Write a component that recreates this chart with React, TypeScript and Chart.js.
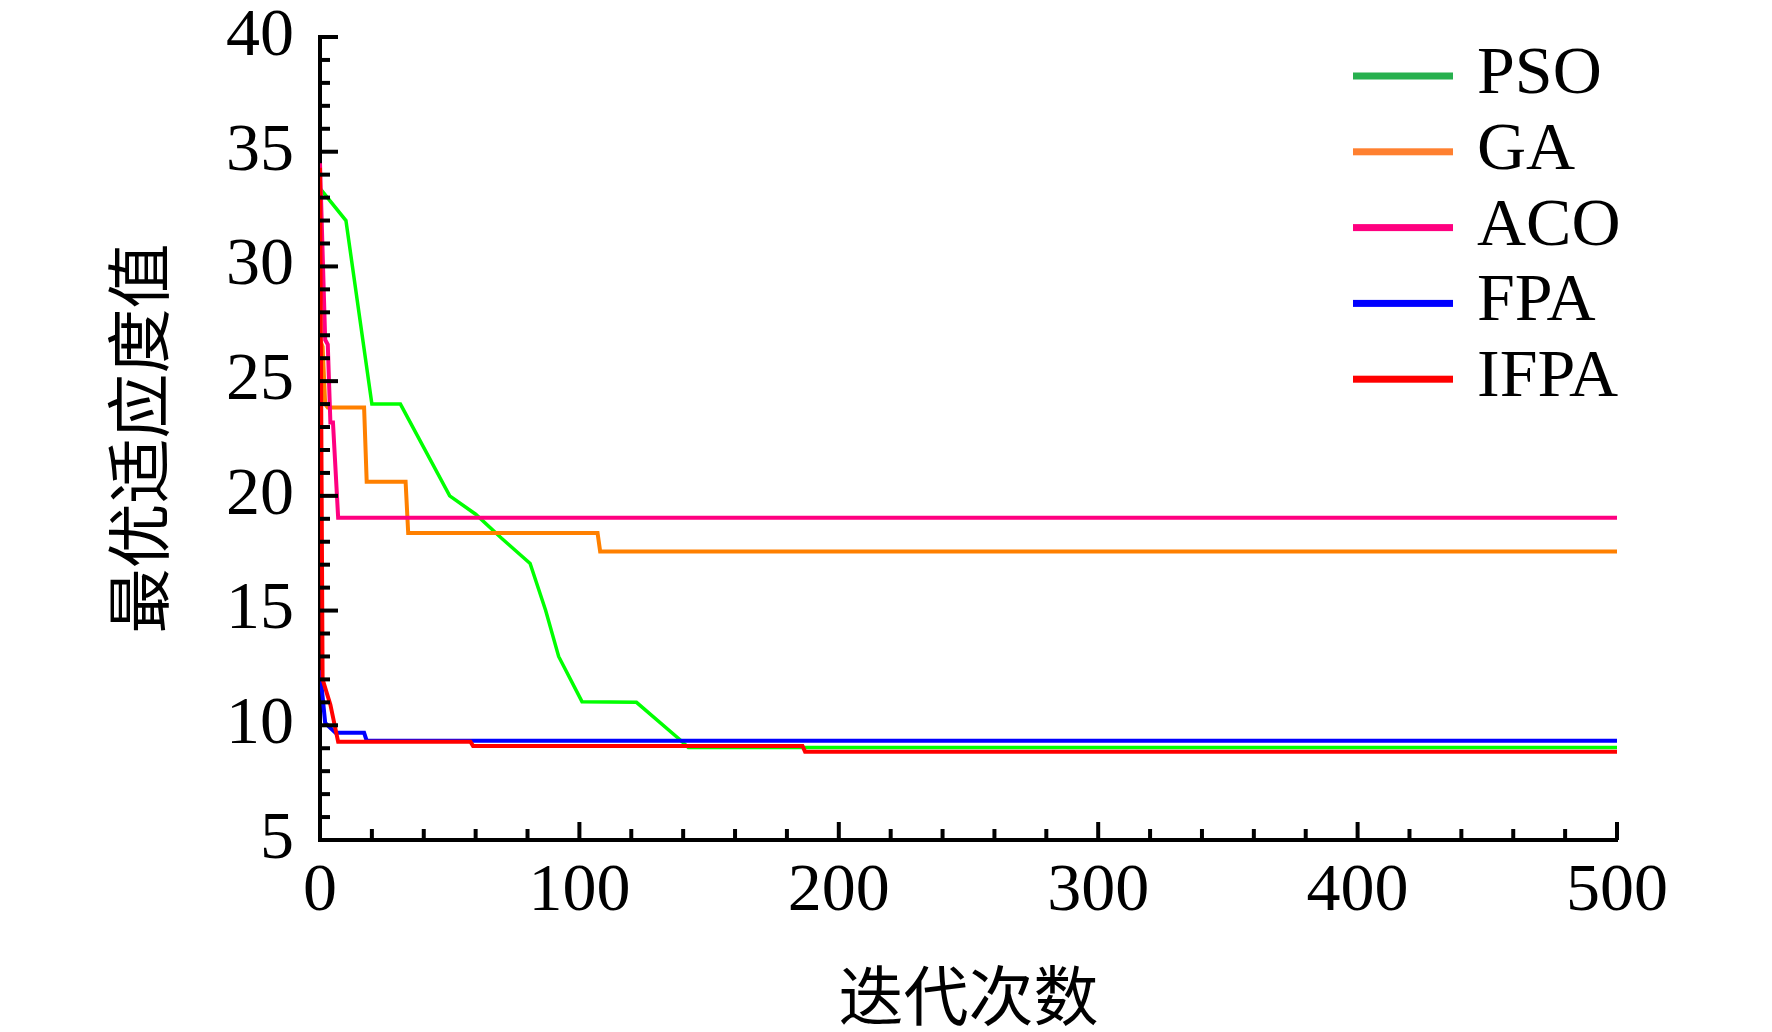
import React, { useEffect, useRef } from "react";
import Chart from "chart.js/auto";

type Pt = [number, number];

// best fitness per iteration
const seriesNames = ["PSO", "GA", "ACO", "FPA", "IFPA"];

const psoData: Pt[] = [
  [0, 33.4], [10, 32.0], [20, 24.0], [31, 24.0], [50, 20.0], [60, 19.2],
  [70, 18.15], [81, 17.05], [87, 15.0], [92, 13.0], [101, 11.03], [122, 11.0],
  [139, 9.35], [142, 9.03], [500, 9.03],
];
const gaData: Pt[] = [
  [0, 26.8], [1, 26.5], [2, 24.0], [3, 23.85], [17, 23.85], [18, 20.62],
  [33, 20.62], [34, 18.38], [107, 18.38], [108, 17.58], [500, 17.58],
];
const acoData: Pt[] = [
  [0, 34.5], [2, 26.8], [3, 26.6], [4, 23.2], [5, 23.2], [7, 19.05], [500, 19.05],
];
const fpaData: Pt[] = [
  [0, 12.4], [2, 10.1], [6, 9.67], [17, 9.67], [18, 9.33], [500, 9.33],
];
const ifpaData: Pt[] = [
  [0, 34.3], [1, 12.0], [4, 10.9], [7, 9.28], [58, 9.28], [59, 9.1],
  [186, 9.1], [187, 8.85], [500, 8.85],
];

const seriesData = [psoData, gaData, acoData, fpaData, ifpaData];
const lineColors = ["#00ff00", "#ff8000", "#ff0080", "#0000ff", "#ff0000"];
const legendColors = ["#27b04e", "#ff8030", "#ff0080", "#0000ff", "#ff0000"];
const drawOrder = [4, 3, 2, 1, 0]; // IFPA on top

const xTicks = [0, 100, 200, 300, 400, 500];
const yTicks = [5, 10, 15, 20, 25, 30, 35, 40];
const xMinorStep = 20;
const yMinorStep = 1;

const serif = "'Liberation Serif', 'Times New Roman', serif";
const cjk = "'Noto Sans CJK SC', sans-serif";

// inward major + minor tick marks
const inwardTicks = {
  id: "inwardTicks",
  afterDatasetsDraw(chart: any) {
    const { ctx, chartArea, scales } = chart;
    const xs = scales.x;
    const ys = scales.y;
    ctx.save();
    ctx.strokeStyle = "#000";
    ctx.lineWidth = 4;
    for (let v = xs.min; v <= xs.max; v += xMinorStep) {
      const px = xs.getPixelForValue(v);
      const len = xTicks.includes(v) ? 18 : 11;
      ctx.beginPath();
      ctx.moveTo(px, chartArea.bottom);
      ctx.lineTo(px, chartArea.bottom - len);
      ctx.stroke();
    }
    for (let v = ys.min; v <= ys.max; v += yMinorStep) {
      const py = ys.getPixelForValue(v);
      const len = yTicks.includes(v) ? 18 : 10;
      ctx.beginPath();
      ctx.moveTo(chartArea.left, py);
      ctx.lineTo(chartArea.left + len, py);
      ctx.stroke();
    }
    ctx.restore();
  },
};

// legend sitting inside the plot, top right
const innerLegend = {
  id: "innerLegend",
  afterDraw(chart: any) {
    const { ctx, chartArea } = chart;
    ctx.save();
    ctx.font = `68px ${serif}`;
    ctx.textBaseline = "alphabetic";
    seriesNames.forEach((name, i) => {
      const cy = chartArea.top + 39 + i * 75.8;
      ctx.fillStyle = legendColors[i];
      ctx.fillRect(chartArea.right - 264, cy - 3.5, 100, 7);
      ctx.fillStyle = "#000";
      ctx.fillText(name, chartArea.right - 140, cy + 17);
    });
    ctx.restore();
  },
};

const FitnessChart: React.FC = () => {
  const chartRef = useRef<HTMLCanvasElement>(null);
  const chartInstance = useRef<Chart>();

  useEffect(() => {
    document.body.style.margin = "0";
    if (chartRef && chartRef.current) {
      const ctx = chartRef.current.getContext("2d");
      if (ctx) {
        chartInstance.current = new Chart(ctx, {
          type: "line",
          data: {
            datasets: seriesNames.map((name, i) => ({
              label: name,
              data: seriesData[i].map(([x, y]) => ({ x, y })),
              borderColor: lineColors[i],
              backgroundColor: lineColors[i],
              borderWidth: i === 0 ? 3.5 : 4,
              pointRadius: 0,
              fill: false,
              tension: 0,
              order: drawOrder[i],
            })),
          },
          options: {
            responsive: false,
            animation: false,
            events: [],
            layout: { padding: { top: 37, right: 155, left: 0, bottom: 0 } },
            plugins: {
              legend: { display: false },
              tooltip: { enabled: false },
            },
            scales: {
              x: {
                type: "linear",
                min: 0,
                max: 500,
                afterBuildTicks: (s: any) => {
                  s.ticks = xTicks.map((value) => ({ value }));
                },
                afterFit: (s: any) => {
                  s.height = 192;
                  s.paddingLeft = 0;
                  s.paddingRight = 0;
                },
                ticks: {
                  color: "#000",
                  font: { family: serif, size: 68 },
                  padding: 11,
                  maxRotation: 0,
                  autoSkip: false,
                },
                grid: { drawOnChartArea: false, drawTicks: false },
                border: { display: true, color: "#000", width: 4 },
                title: {
                  display: true,
                  text: "迭代次数",
                  color: "#000",
                  font: { family: cjk, size: 65, lineHeight: 1 },
                  padding: { top: 0, bottom: 4 },
                },
              },
              y: {
                type: "linear",
                min: 5,
                max: 40,
                afterBuildTicks: (s: any) => {
                  s.ticks = yTicks.map((value) => ({ value }));
                },
                afterFit: (s: any) => {
                  s.width = 320;
                  s.paddingTop = 0;
                  s.paddingBottom = 0;
                },
                ticks: {
                  color: "#000",
                  font: { family: serif, size: 68 },
                  padding: 26,
                  autoSkip: false,
                },
                grid: { drawOnChartArea: false, drawTicks: false },
                border: { display: true, color: "#000", width: 4 },
                title: {
                  display: true,
                  text: "最优适应度值",
                  color: "#000",
                  font: { family: cjk, size: 65, lineHeight: 1 },
                  padding: { top: 106, bottom: 0 },
                },
              },
            },
          },
          plugins: [inwardTicks, innerLegend],
        });
      }
    }

    return () => {
      if (chartInstance.current) {
        chartInstance.current.destroy();
      }
    };
  }, []);

  return (
    <div style={{ width: 1772, height: 1032, background: "#fff" }}>
      <canvas ref={chartRef} width={1772} height={1032} />
    </div>
  );
};

export default function App() {
  return <FitnessChart />;
}
